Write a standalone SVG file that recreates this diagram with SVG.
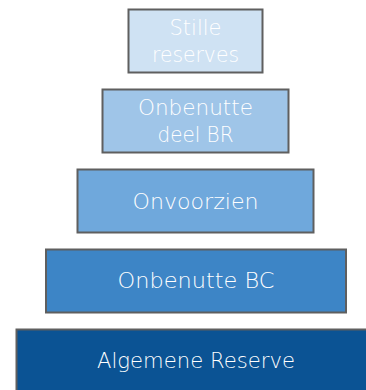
<svg xmlns="http://www.w3.org/2000/svg" width="366" height="390" viewBox="0 0 366 390">
<style>
.box{stroke:#5f5f5f;stroke-width:2}
.t{font-family:"DejaVu Sans","Liberation Sans",sans-serif;font-size:22px;font-weight:200;fill:#ffffff;text-anchor:middle}
</style>
<rect width="366" height="390" fill="#ffffff"/>
<g id="stille">
<rect class="box" x="128.5" y="9.5" width="134" height="63" fill="#cfe2f3"/>
<text class="t" x="195.5" y="35" textLength="52" lengthAdjust="spacingAndGlyphs">Stille</text>
<text class="t" x="195.5" y="62" textLength="87" lengthAdjust="spacingAndGlyphs">reserves</text>
</g>
<g id="onbenutte-br">
<rect class="box" x="102.5" y="89.5" width="186" height="63" fill="#9fc5e8"/>
<text class="t" x="195.5" y="115" textLength="115" lengthAdjust="spacingAndGlyphs">Onbenutte</text>
<text class="t" x="195.5" y="142" textLength="76" lengthAdjust="spacingAndGlyphs">deel BR</text>
</g>
<g id="onvoorzien">
<rect class="box" x="77.5" y="169.5" width="236" height="63" fill="#6fa8dc"/>
<text class="t" x="195.5" y="209" textLength="126" lengthAdjust="spacingAndGlyphs">Onvoorzien</text>
</g>
<g id="onbenutte-bc">
<rect class="box" x="46" y="249.5" width="300" height="63" fill="#3d85c6"/>
<text class="t" x="196" y="288" textLength="157" lengthAdjust="spacingAndGlyphs">Onbenutte BC</text>
</g>
<g id="algemene">
<rect class="box" x="16.5" y="329.5" width="360" height="70" fill="#0b5394"/>
<text class="t" x="196" y="368" textLength="198" lengthAdjust="spacingAndGlyphs">Algemene Reserve</text>
</g>
<g id="connectors"/>
</svg>
